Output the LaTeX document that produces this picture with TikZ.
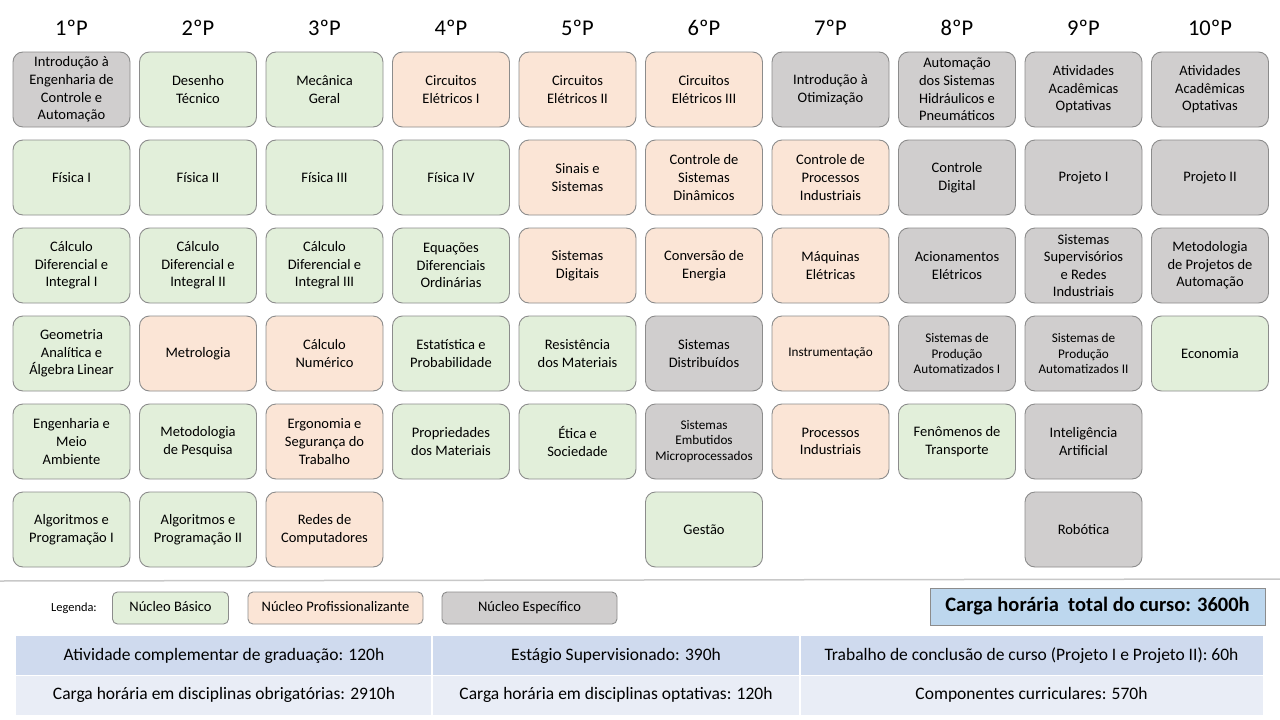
\documentclass[tikz,border=0pt]{standalone}
\usepackage{fontspec}
\setmainfont{Carlito}
\definecolor{bgreen}{HTML}{E2EFDA}
\definecolor{bpro}{HTML}{FBE5D6}
\definecolor{besp}{HTML}{D0CECE}
\definecolor{bline}{HTML}{8C8C8C}
\definecolor{trow1}{HTML}{CFDAEE}
\definecolor{trow2}{HTML}{E9EDF6}
\definecolor{ttot}{HTML}{BDD7EE}
\definecolor{sepl}{HTML}{C8C8C8}
\newcommand{\nfont}{\fontsize{14.5}{17.6}\selectfont}
\newcommand{\sfont}{\fontsize{13.2}{15.2}\selectfont}
\tikzset{
  disc/.style={draw=bline, line width=0.9pt, rounded corners=10pt, minimum width=117pt, minimum height=75pt, align=center, inner sep=1pt, font=\nfont},
  small/.style={font=\sfont},
  gb/.style={disc, fill=bgreen},
  pb/.style={disc, fill=bpro},
  eb/.style={disc, fill=besp},
  head/.style={font=\fontsize{22.5}{26}\selectfont},
  leg/.style={draw=bline, line width=0.9pt, rounded corners=5pt, minimum height=32pt, font=\fontsize{14.5}{17}\selectfont, inner sep=0pt, text height=10pt, text depth=3pt},
  cell/.style={font=\fontsize{17.5}{20}\selectfont, inner sep=0pt, text height=12.5pt, text depth=4pt}
}
\begin{document}
\begin{tikzpicture}[x=1pt,y=-1pt]
\useasboundingbox (0,0) rectangle (1280,720);
\fill[white] (0,0) rectangle (1280,720);
% headers
\foreach \i/\t in {1/1ºP,2/2ºP,3/3ºP,4/4ºP,5/5ºP,6/6ºP,7/7ºP,8/8ºP,9/9ºP,10/10ºP}{
  \node[head] (h\i) at ({71.5+126.5*(\i-1)},28) {\t};
}
% column 1
\node[eb] (c1r1) at (71.5,89.5) {Introdução à\\Engenharia de\\Controle e\\Automação};
\node[gb] (c1r2) at (71.5,177.5) {Física I};
\node[gb] (c1r3) at (71.5,265.5) {Cálculo\\Diferencial e\\Integral I};
\node[gb] (c1r4) at (71.5,353.5) {Geometria\\Analítica e\\Álgebra Linear};
\node[gb] (c1r5) at (71.5,441.5) {Engenharia e\\Meio\\Ambiente};
\node[gb] (c1r6) at (71.5,529.5) {Algoritmos e\\Programação I};
% column 2
\node[gb] (c2r1) at (198,89.5) {Desenho\\Técnico};
\node[gb] (c2r2) at (198,177.5) {Física II};
\node[gb] (c2r3) at (198,265.5) {Cálculo\\Diferencial e\\Integral II};
\node[pb] (c2r4) at (198,353.5) {Metrologia};
\node[gb] (c2r5) at (198,441.5) {Metodologia\\de Pesquisa};
\node[gb] (c2r6) at (198,529.5) {Algoritmos e\\Programação II};
% column 3
\node[gb] (c3r1) at (324.5,89.5) {Mecânica\\Geral};
\node[gb] (c3r2) at (324.5,177.5) {Física III};
\node[gb] (c3r3) at (324.5,265.5) {Cálculo\\Diferencial e\\Integral III};
\node[pb] (c3r4) at (324.5,353.5) {Cálculo\\Numérico};
\node[pb] (c3r5) at (324.5,441.5) {Ergonomia e\\Segurança do\\Trabalho};
\node[pb] (c3r6) at (324.5,529.5) {Redes de\\Computadores};
% column 4
\node[pb] (c4r1) at (451,89.5) {Circuitos\\Elétricos I};
\node[gb] (c4r2) at (451,177.5) {Física IV};
\node[gb] (c4r3) at (451,265.5) {Equações\\Diferenciais\\Ordinárias};
\node[gb] (c4r4) at (451,353.5) {Estatística e\\Probabilidade};
\node[gb] (c4r5) at (451,441.5) {Propriedades\\dos Materiais};
% column 5
\node[pb] (c5r1) at (577.5,89.5) {Circuitos\\Elétricos II};
\node[pb] (c5r2) at (577.5,177.5) {Sinais e\\Sistemas};
\node[pb] (c5r3) at (577.5,265.5) {Sistemas\\Digitais};
\node[gb] (c5r4) at (577.5,353.5) {Resistência\\dos Materiais};
\node[gb] (c5r5) at (577.5,441.5) {Ética e\\Sociedade};
% column 6
\node[pb] (c6r1) at (704,89.5) {Circuitos\\Elétricos III};
\node[pb] (c6r2) at (704,177.5) {Controle de\\Sistemas\\Dinâmicos};
\node[pb] (c6r3) at (704,265.5) {Conversão de\\Energia};
\node[eb] (c6r4) at (704,353.5) {Sistemas\\Distribuídos};
\node[eb,small] (c6r5) at (704,441.5) {Sistemas\\Embutidos\\Microprocessados};
\node[gb] (c6r6) at (704,529.5) {Gestão};
% column 7
\node[eb] (c7r1) at (830.5,89.5) {Introdução à\\Otimização};
\node[pb] (c7r2) at (830.5,177.5) {Controle de\\Processos\\Industriais};
\node[pb] (c7r3) at (830.5,265.5) {Máquinas\\Elétricas};
\node[pb,small] (c7r4) at (830.5,353.5) {Instrumentação};
\node[pb] (c7r5) at (830.5,441.5) {Processos\\Industriais};
% column 8
\node[eb] (c8r1) at (957,89.5) {Automação\\dos Sistemas\\Hidráulicos e\\Pneumáticos};
\node[eb] (c8r2) at (957,177.5) {Controle\\Digital};
\node[eb] (c8r3) at (957,265.5) {Acionamentos\\Elétricos};
\node[eb,small] (c8r4) at (957,353.5) {Sistemas de\\Produção\\Automatizados I};
\node[gb] (c8r5) at (957,441.5) {Fenômenos de\\Transporte};
% column 9
\node[eb] (c9r1) at (1083.5,89.5) {Atividades\\Acadêmicas\\Optativas};
\node[eb] (c9r2) at (1083.5,177.5) {Projeto I};
\node[eb] (c9r3) at (1083.5,265.5) {Sistemas\\Supervisórios\\e Redes\\Industriais};
\node[eb,small] (c9r4) at (1083.5,353.5) {Sistemas de\\Produção\\Automatizados II};
\node[eb] (c9r5) at (1083.5,441.5) {Inteligência\\Artificial};
\node[eb] (c9r6) at (1083.5,529.5) {Robótica};
% column 10
\node[eb] (c10r1) at (1210,89.5) {Atividades\\Acadêmicas\\Optativas};
\node[eb] (c10r2) at (1210,177.5) {Projeto II};
\node[eb] (c10r3) at (1210,265.5) {Metodologia\\de Projetos de\\Automação};
\node[gb] (c10r4) at (1210,353.5) {Economia};
% separator
\draw[sepl, line width=1.5pt] (0,581) -- (1280,579);
% legend
\node[font=\fontsize{12.4}{14}\selectfont, text height=8.5pt, text depth=2.5pt] (legt) at (74,608) {Legenda:};
\node[leg, fill=bgreen, minimum width=116pt] (lg1) at (170.5,608) {Núcleo Básico};
\node[leg, fill=bpro, minimum width=175pt] (lg2) at (335.5,608) {Núcleo Profissionalizante};
\node[leg, fill=besp, minimum width=175pt] (lg3) at (529.5,608) {Núcleo Específico};
% total
\node[draw=bline, fill=ttot, line width=0.9pt, minimum width=335pt, minimum height=37pt, inner sep=0pt, text height=14pt, text depth=4.5pt, font=\fontsize{20.5}{24}\selectfont\bfseries] (tot) at (1097.5,607) {Carga horária\ \ total do curso: 3600h};
% table
\fill[trow1] (16,636) rectangle (1263,675.5);
\fill[trow2] (16,675.5) rectangle (1263,715);
\draw[white, line width=1.5pt] (16,675.5) -- (1263,675.5);
\draw[white, line width=1.5pt] (432,636) -- (432,715);
\draw[white, line width=1.5pt] (800,636) -- (800,715);
\node[cell] (t11) at (224,656) {Atividade complementar de graduação: 120h};
\node[cell] (t12) at (616,656) {Estágio Supervisionado: 390h};
\node[cell] (t13) at (1031.5,656) {Trabalho de conclusão de curso (Projeto I e Projeto II): 60h};
\node[cell] (t21) at (224,695) {Carga horária em disciplinas obrigatórias: 2910h};
\node[cell] (t22) at (616,695) {Carga horária em disciplinas optativas: 120h};
\node[cell] (t23) at (1031.5,695) {Componentes curriculares: 570h};
\end{tikzpicture}
\end{document}
